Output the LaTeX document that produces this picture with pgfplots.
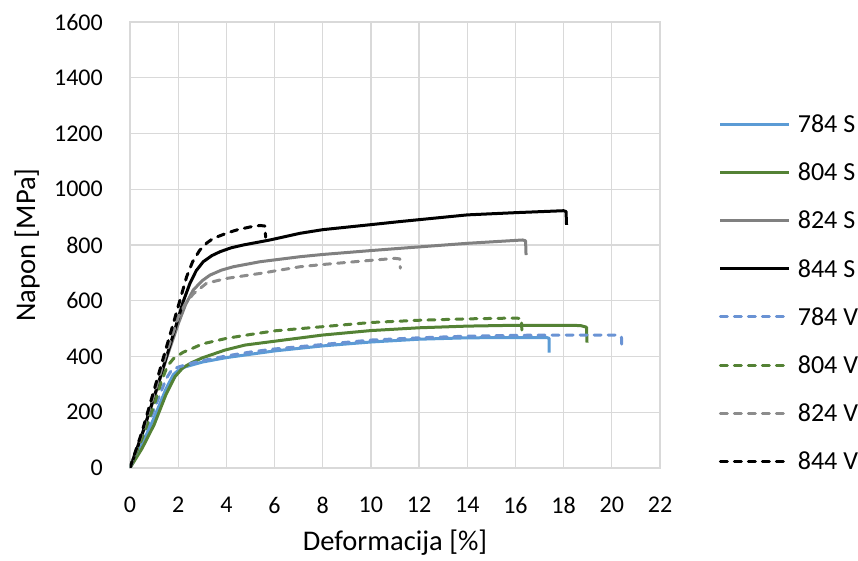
\documentclass[border=0pt]{standalone}
\usepackage{pgfplots}
\pgfplotsset{compat=1.18}
\usepackage{fontspec}
\setmainfont{Carlito}
\definecolor{cblue}{HTML}{5B9BD5}
\definecolor{cbluev}{HTML}{6A93D4}
\definecolor{cgreen}{HTML}{548235}
\definecolor{cgray}{HTML}{808080}
\definecolor{cgrayv}{HTML}{8C8C8C}
\definecolor{cgrid}{HTML}{D9D9D9}
\begin{document}
\begin{tikzpicture}[font=\fontsize{24pt}{28pt}\selectfont]
\begin{axis}[
  at={(0,0)}, anchor=south west,
  scale only axis, width=530pt, height=446pt,
  xmin=0, xmax=22, ymin=0, ymax=1600,
  xtick={0,2,...,22}, ytick={0,200,...,1600},
  grid=major, major grid style={cgrid, line width=1.2pt},
  axis line style={cgrid, line width=1.2pt},
  major tick length=0pt,
  /pgf/number format/assume math mode=true,
  /pgf/number format/1000 sep={},
  tick label style={font=\fontsize{24pt}{28pt}\selectfont},
  xticklabel style={inner sep=0pt, anchor=north, yshift=-29pt},
  yticklabel style={inner sep=0pt, anchor=east, xshift=-27pt},
  xlabel={Deformacija [\%]}, ylabel={Napon [MPa]},
  label style={font=\fontsize{28.5pt}{32pt}\selectfont},
  xlabel style={at={(axis description cs:0.5,-0.1682)}, anchor=center},
  ylabel style={at={(axis description cs:-0.1943,0.5)}, anchor=center},
  legend style={at={(axis description cs:1.105,0.393)}, anchor=west, draw=none, fill=none,
    font=\fontsize{26pt}{30pt}\selectfont,
    row sep=31.2pt, column sep=7pt, nodes={inner sep=0pt, text height=17pt, text depth=0pt}},
  legend cell align=left,
  legend image code/.code={\draw[#1] (0pt,0pt) -- (69pt,0pt);},
  every axis plot/.append style={line width=3pt, line join=round},
  dashstyle/.style={dash pattern=on 7pt off 7pt, line cap=round},
]
% 784 S
\addplot[cblue] coordinates {(0,0)(0.5,85)(1,180)(1.5,285)(1.8,335)(2.0,350)(2.3,363)(3,380)(4,396)(5,408)(6,420)(8,438)(10,452)(12,462)(14,467)(16,468)(17.3,468)(17.4,465)(17.4,414)};
\addlegendentry{784 S}
% 804 S
\addplot[cgreen] coordinates {(0,0)(0.5,70)(1,155)(1.5,265)(1.87,328)(2.2,360)(2.56,378)(3,395)(3.94,423)(4.77,441)(6.2,457)(8,477)(10,493)(12,503)(14,509)(16,512)(18,512)(18.7,511)(18.95,505)(18.97,450)};
\addlegendentry{804 S}
% 824 S
\addplot[cgray] coordinates {(0,0)(0.5,120)(1,250)(1.5,390)(2.01,519)(2.3,585)(2.63,639)(3,672)(3.32,692)(3.8,710)(4.29,722)(5.4,740)(7.06,758)(8,766)(10,780)(11.2,788)(14,806)(16.3,818)(16.42,815)(16.44,764)};
\addlegendentry{824 S}
% 844 S
\addplot[black] coordinates {(0,0)(0.5,120)(1,255)(1.5,395)(1.94,519)(2.2,595)(2.49,663)(2.75,708)(3.04,740)(3.4,762)(3.74,776)(4.2,790)(4.7,800)(5.81,818)(7.06,842)(8,855)(10,873)(11.2,884)(14,908)(16,916)(18,923)(18.1,920)(18.12,872)};
\addlegendentry{844 S}
% 784 V
\addplot[cbluev, dashstyle] coordinates {(0,0)(0.5,100)(1,210)(1.5,320)(1.73,352)(2,362)(2.56,376)(3,385)(4,402)(5,416)(6,427)(8,443)(10,459)(12,467)(14,473)(16,476)(18,477)(20.2,477)(20.4,470)(20.42,423)};
\addlegendentry{784 V}
% 804 V
\addplot[cgreen, dashstyle] coordinates {(0,0)(0.5,105)(1,225)(1.3,310)(1.55,365)(1.8,392)(2.2,415)(2.56,428)(3,445)(4,465)(5,479)(6,492)(8,507)(10,522)(12,530)(14,535)(16,538)(16.25,536)(16.27,477)};
\addlegendentry{804 V}
% 824 V
\addplot[cgrayv, dashstyle] coordinates {(0,0)(0.5,125)(1,265)(1.5,410)(2,540)(2.3,590)(2.63,625)(3.18,663)(4,680)(5.4,698)(7.06,722)(8,730)(10,745)(11,752)(11.2,750)(11.22,717)};
\addlegendentry{824 V}
% 844 V
\addplot[black, dashstyle] coordinates {(0,0)(0.5,130)(1,280)(1.5,430)(1.8,519)(2.1,610)(2.35,686)(2.6,740)(2.9,782)(3.2,808)(3.46,824)(4,842)(4.43,854)(5,865)(5.4,870)(5.6,868)(5.63,828)};
\addlegendentry{844 V}
\end{axis}
\pgfresetboundingbox
\path (-130pt,-93pt) rectangle (728pt,468pt);
\end{tikzpicture}
\end{document}
